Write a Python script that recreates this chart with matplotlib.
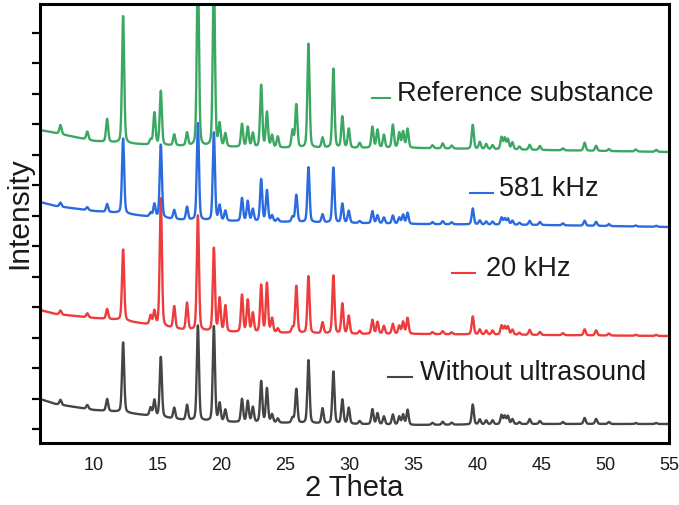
import numpy as np
import matplotlib
matplotlib.use("Agg")
from matplotlib import pyplot as plt
from matplotlib.ticker import MultipleLocator

plt.rcParams['font.family'] = ['Liberation Sans', 'DejaVu Sans']

# peak positions (2 theta) shared by all four patterns
peak_pos = [7.4, 9.5, 11.05, 12.3, 14.45, 14.75, 15.25, 16.3, 17.3, 18.15,
            19.4, 19.85, 20.3, 21.6, 22.05, 22.45, 23.1, 23.55, 23.95, 24.4,
            25.55, 25.85, 26.8, 27.9, 28.75, 29.45, 29.95, 30.8, 31.8, 32.2,
            32.7, 33.4, 33.9, 34.2, 34.55, 36.5, 37.3, 38.0, 39.65, 40.2,
            40.7, 41.2, 41.9, 42.15, 42.4, 42.75, 43.3, 44.1, 44.9, 46.7,
            48.4, 49.3, 50.3, 52.4, 54.0]

# peak heights above background (a.u.)
ref_h = [9, 8, 23, 127, 5, 32, 54, 11, 13, 180,
         175, 22, 13, 23, 20, 14, 62, 35, 12, 11,
         17, 43, 104, 10, 79, 31, 19, 5, 21, 18,
         13, 23, 15, 16, 19, 3, 5, 3, 24, 7,
         5, 4, 12, 11, 10, 7, 3, 5, 4, 2,
         8, 5, 2, 2, 2]
k581_h = [4, 3, 8, 75, 4, 13, 73, 9, 13, 97,
          88, 15, 10, 23, 20, 12, 42, 31, 6, 3,
          5, 27, 55, 8, 55, 19, 12, 2, 12, 8,
          6, 8, 6, 9, 11, 2, 3, 2, 16, 4,
          3, 3, 7, 6, 6, 4, 2, 4, 3, 2,
          5, 4, 2, 1, 1]
k20_h = [4, 4, 10, 71, 9, 14, 128, 22, 27, 115,
         83, 33, 26, 37, 32, 19, 47, 49, 14, 4,
         5, 47, 57, 11, 58, 30, 18, 3, 14, 12,
         8, 10, 8, 12, 16, 2, 3, 2, 18, 5,
         4, 4, 9, 8, 8, 5, 2, 5, 3, 2,
         6, 5, 2, 1, 1]
none_h = [5, 4, 12, 70, 8, 16, 60, 11, 15, 95,
          95, 18, 12, 23, 21, 15, 41, 34, 8, 4,
          5, 34, 63, 15, 52, 24, 16, 3, 15, 11,
          8, 10, 8, 10, 15, 2, 3, 2, 20, 5,
          4, 4, 9, 8, 8, 5, 2, 5, 3, 2,
          6, 5, 2, 1, 1]

# background levels (stacked offsets included)
bg_x = [5.8, 7, 10, 12, 14.5, 17, 20, 25, 30, 35, 45, 55]
ref_bg = [299, 296, 288, 286, 284, 283, 282, 281, 281, 281, 279, 277]
k581_bg = [227, 223, 218, 216, 212, 209, 208, 207, 206, 205, 204, 202]
k20_bg = [119, 115, 111, 109, 104, 99, 97, 96, 95, 95, 94, 93]
none_bg = [30, 25, 19, 17, 13, 9, 7, 6, 5, 4, 5, 5]

labels = ['Without ultrasound', '20 kHz', '581 kHz', 'Reference substance']
colors = ['#454545', '#ee3b3b', '#2a6be0', '#3aa862']


def pattern(x, heights, bg):
    hw = 0.1
    y = np.interp(x, bg_x, bg)
    for p, h in zip(peak_pos, heights):
        u = (x - p) / hw
        y = y + h * (0.3 / (1 + u ** 2) + 0.7 * np.exp(-np.log(2) * u ** 2))
    return y


x = np.arange(5.8, 55.01, 0.01)

fig = plt.figure(figsize=(6.79, 5.05), dpi=100)
ax = fig.add_axes([40 / 679, 62 / 505, 629 / 679, 439 / 505])

series = [(none_h, none_bg), (k20_h, k20_bg), (k581_h, k581_bg), (ref_h, ref_bg)]
for (h, bg), c in zip(series, colors):
    ax.plot(x, pattern(x, h, bg), color=c, lw=1.7)

# labels with short coloured dash, as in the original
lab_pos = [(33.0, 34.9, 52, 35.5), (38.0, 39.8, 156, 40.7),
           (39.4, 41.2, 236, 41.7), (31.8, 33.2, 331, 33.7)]
for lab, c, (x0, x1, yy, xt) in zip(labels, colors, lab_pos):
    ax.plot([x0, x1], [yy, yy], color=c, lw=1.5)
    ax.text(xt, yy + 4, lab, fontsize=19.5, color='#1a1a1a', va='center', ha='left')

ax.set_xlim(5.8, 55)
ax.set_ylim(-14, 425)
ax.set_xticks(range(10, 56, 5))
ax.yaxis.set_major_locator(MultipleLocator(30.46))
ax.set_yticklabels([])
ax.tick_params(axis='x', length=0, pad=10, labelsize=13, colors='#1a1a1a')
ax.tick_params(axis='y', direction='out', length=6, width=1.6)
for s in ax.spines.values():
    s.set_linewidth(2.2)

ax.set_xlabel('2 Theta', fontsize=21, color='#1a1a1a', labelpad=0)
ax.set_ylabel('Intensity', fontsize=21.5, color='#1a1a1a')
ax.yaxis.set_label_coords(-0.01, 0.524)

fig.savefig('out.png', dpi=100)
